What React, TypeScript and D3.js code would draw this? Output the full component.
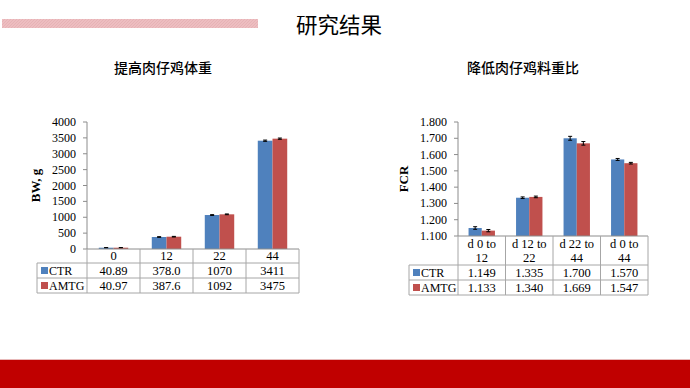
import * as d3 from "d3";

// 体重 (BW, g)
const bwCategories = ["0", "12", "22", "44"];
const bwCtr = [40.89, 378.0, 1070, 3411];
const bwAmtg = [40.97, 387.6, 1092, 3475];
const bwCtrText = ["40.89", "378.0", "1070", "3411"];
const bwAmtgText = ["40.97", "387.6", "1092", "3475"];
const bwCtrErr = [4, 10, 12, 20];
const bwAmtgErr = [4, 10, 12, 20];
const bwTicks = [0, 500, 1000, 1500, 2000, 2500, 3000, 3500, 4000];

// 料重比 (FCR)
const fcrCategories = [["d 0 to", "12"], ["d 12 to", "22"], ["d 22 to", "44"], ["d 0 to", "44"]];
const fcrCtr = [1.149, 1.335, 1.7, 1.57];
const fcrAmtg = [1.133, 1.34, 1.669, 1.547];
const fcrCtrErr = [0.008, 0.005, 0.012, 0.006];
const fcrAmtgErr = [0.007, 0.005, 0.011, 0.005];
const fcrTicks = [1.1, 1.2, 1.3, 1.4, 1.5, 1.6, 1.7, 1.8];

const seriesNames = ["CTR", "AMTG"];
const seriesColors = ["#4F81BD", "#C0504D"];

const SERIF = "'Liberation Serif', 'Times New Roman', serif";
const CJK = "'Noto Sans CJK SC', sans-serif";
const AXIS = "#8C8C8C";
const GRID = "#A6A6A6";

interface PanelProps {
  x0: number;
  x1: number;
  yTop: number;
  yBottom: number;
  domain: [number, number];
  ticks: number[];
  tickFmt: (v: number) => string;
  cats: string[][];
  values: number[][];
  errors: number[][];
  texts: string[][];
  rows: [number, number, number];
  legendLeft: number;
  yLabel: string;
  yLabelX: number;
}

function Panel(p: PanelProps) {
  const x = d3
    .scaleBand<number>()
    .domain(p.cats.map((_, i) => i))
    .range([p.x0, p.x1]);
  const inner = d3
    .scaleBand<number>()
    .domain([0, 1])
    .range([0, x.bandwidth()])
    .paddingInner(0)
    .paddingOuter(0.8);
  const y = d3.scaleLinear().domain(p.domain).range([p.yBottom, p.yTop]);
  const [hdr, r1, r2] = p.rows;
  const bounds = [p.x0, ...p.cats.map((_, i) => x(i)! + x.bandwidth())];

  return (
    <g>
      {/* bars + error bars */}
      {p.values.map((vals, si) =>
        vals.map((v, ci) => {
          const bx = x(ci)! + inner(si)!;
          const bw = inner.bandwidth();
          const cx = bx + bw / 2;
          const e = p.errors[si][ci];
          return (
            <g key={`${si}-${ci}`}>
              <rect x={bx} y={y(v)} width={bw} height={y(p.domain[0]) - y(v)} fill={seriesColors[si]} />
              <line x1={cx} x2={cx} y1={y(v - e)} y2={y(v + e)} stroke="#000" strokeWidth={1} />
              <line x1={cx - 2} x2={cx + 2} y1={y(v + e)} y2={y(v + e)} stroke="#000" strokeWidth={1} />
              <line x1={cx - 2} x2={cx + 2} y1={y(v - e)} y2={y(v - e)} stroke="#000" strokeWidth={1} />
            </g>
          );
        })
      )}

      {/* y axis */}
      <line x1={p.x0} x2={p.x0} y1={p.yTop} y2={p.yBottom} stroke={AXIS} />
      {p.ticks.map((t) => (
        <g key={t}>
          <line x1={p.x0 - 4} x2={p.x0} y1={y(t)} y2={y(t)} stroke={AXIS} />
          <text
            x={p.x0 - 11}
            y={y(t)}
            textAnchor="end"
            dominantBaseline="central"
            fontFamily={SERIF}
            fontSize={12}
            fill="#000"
          >
            {p.tickFmt(t)}
          </text>
        </g>
      ))}
      <text
        transform={`translate(${p.yLabelX},${(p.yTop + p.yBottom) / 2}) rotate(-90)`}
        textAnchor="middle"
        dominantBaseline="central"
        fontFamily={SERIF}
        fontWeight="bold"
        fontSize={13}
      >
        {p.yLabel}
      </text>

      {/* data table */}
      <line x1={p.x0} x2={p.x1} y1={p.yBottom} y2={p.yBottom} stroke={AXIS} />
      {[hdr, r1, r2].map((ry) => (
        <line key={ry} x1={p.legendLeft} x2={p.x1} y1={ry} y2={ry} stroke={GRID} />
      ))}
      <line x1={p.legendLeft} x2={p.legendLeft} y1={hdr} y2={r2} stroke={GRID} />
      {bounds.map((bx) => (
        <line key={bx} x1={bx} x2={bx} y1={p.yBottom} y2={r2} stroke={GRID} />
      ))}
      {p.cats.map((lines, ci) => {
        const cx = x(ci)! + x.bandwidth() / 2;
        const mid = (p.yBottom + hdr) / 2;
        return (
          <text key={ci} x={cx} textAnchor="middle" fontFamily={SERIF} fontSize={12.5} fill="#000">
            {lines.map((ln, li) => (
              <tspan key={li} x={cx} y={mid + (li - (lines.length - 1) / 2) * 14} dominantBaseline="central">
                {ln}
              </tspan>
            ))}
          </text>
        );
      })}
      {seriesNames.map((name, si) => {
        const top = si === 0 ? hdr : r1;
        const bot = si === 0 ? r1 : r2;
        const mid = (top + bot) / 2;
        return (
          <g key={name}>
            <rect x={p.legendLeft + 4} y={mid - 3.5} width={7} height={7} fill={seriesColors[si]} />
            <text
              x={p.legendLeft + 12}
              y={mid}
              dominantBaseline="central"
              fontFamily={SERIF}
              fontSize={12}
              fill="#000"
            >
              {name}
            </text>
            {p.texts[si].map((t, ci) => (
              <text
                key={ci}
                x={x(ci)! + x.bandwidth() / 2}
                y={mid}
                textAnchor="middle"
                dominantBaseline="central"
                fontFamily={SERIF}
                fontSize={12.5}
                fill="#000"
              >
                {t}
              </text>
            ))}
          </g>
        );
      })}
    </g>
  );
}

export default function App() {
  const fmt3 = d3.format(".3f");
  return (
    <svg
      width={690}
      height={388}
      viewBox="0 0 690 388"
      style={{ position: "absolute", left: 0, top: 0, background: "#fff" }}
    >
      <defs>
        <pattern id="hatch" width="3" height="3" patternUnits="userSpaceOnUse">
          <rect width="3" height="3" fill="#EDBDC0" />
          <path d="M0 3 L3 0" stroke="#E4AEB2" strokeWidth={0.8} />
        </pattern>
      </defs>

      {/* header */}
      <rect x={2} y={19} width={256} height={9} fill="url(#hatch)" />
      <text x={339} y={23} textAnchor="middle" dominantBaseline="central" fontFamily={CJK} fontSize={21.5} fill="#000">
        研究结果
      </text>
      <text x={163} y={67} textAnchor="middle" dominantBaseline="central" fontFamily={CJK} fontSize={14} fontWeight={500} fill="#000">
        提高肉仔鸡体重
      </text>
      <text x={523} y={67} textAnchor="middle" dominantBaseline="central" fontFamily={CJK} fontSize={14} fontWeight={500} fill="#000">
        降低肉仔鸡料重比
      </text>

      <Panel
        x0={87}
        x1={299}
        yTop={122}
        yBottom={249}
        domain={[0, 4000]}
        ticks={bwTicks}
        tickFmt={(v) => String(v)}
        cats={bwCategories.map((c) => [c])}
        values={[bwCtr, bwAmtg]}
        errors={[bwCtrErr, bwAmtgErr]}
        texts={[bwCtrText, bwAmtgText]}
        rows={[263, 278, 293]}
        legendLeft={37}
        yLabel="BW, g"
        yLabelX={35}
      />
      <Panel
        x0={458}
        x1={648}
        yTop={122}
        yBottom={236}
        domain={[1.1, 1.8]}
        ticks={fcrTicks}
        tickFmt={fmt3}
        cats={fcrCategories}
        values={[fcrCtr, fcrAmtg]}
        errors={[fcrCtrErr, fcrAmtgErr]}
        texts={[fcrCtr.map(fmt3), fcrAmtg.map(fmt3)]}
        rows={[265, 280, 295]}
        legendLeft={409}
        yLabel="FCR"
        yLabelX={403}
      />

      {/* footer band */}
      <rect x={0} y={359} width={690} height={1} fill="#E8B9B9" />
      <rect x={0} y={360} width={690} height={28} fill="#C00000" />
    </svg>
  );
}
